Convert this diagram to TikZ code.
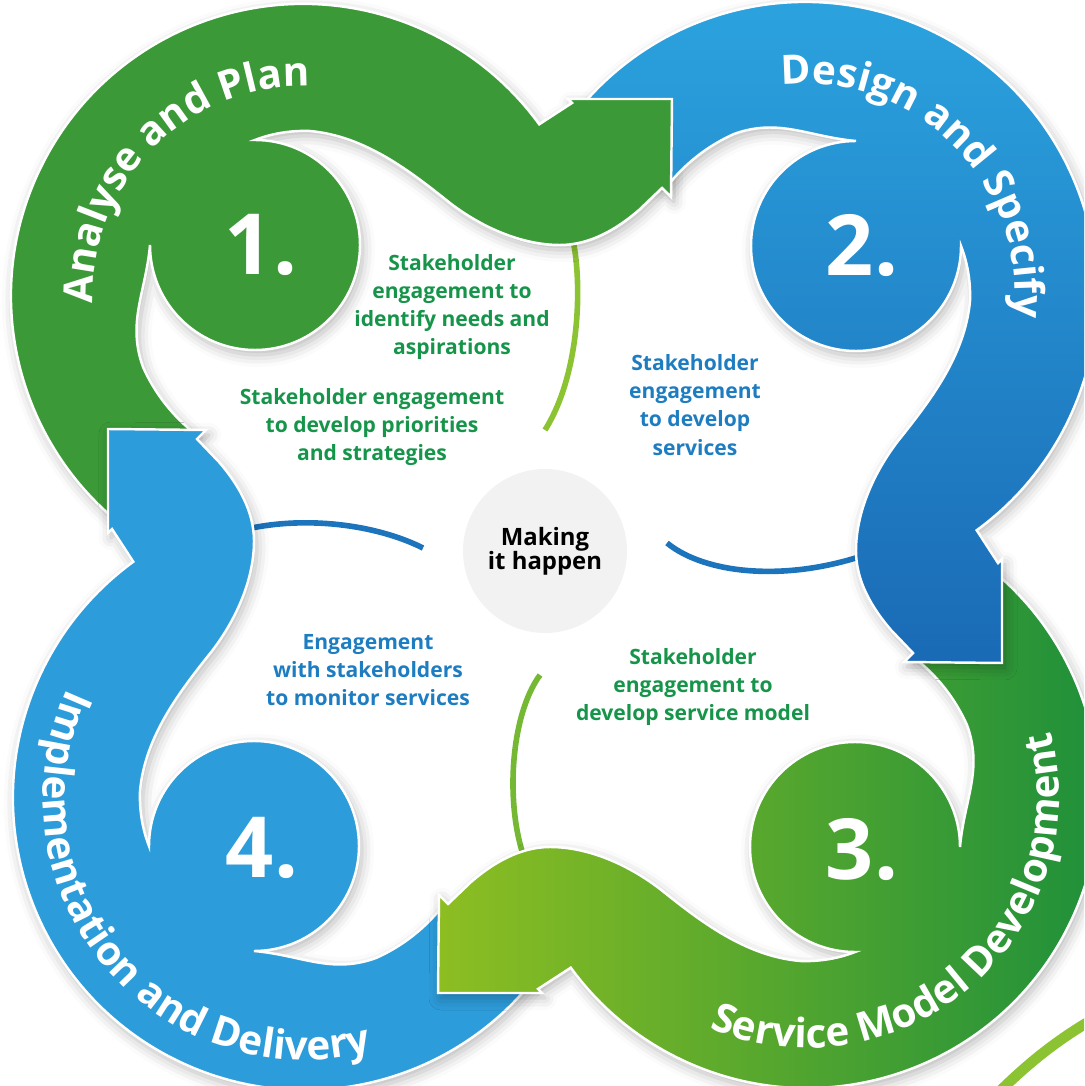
\documentclass[tikz,border=0pt]{standalone}
\usepackage{fontspec}
\setmainfont{Open Sans}
\usetikzlibrary{positioning, decorations.text, shadows.blur}
\usepackage{xcolor}
\definecolor{xgrnA}{HTML}{3B9A37}
\definecolor{xbluQ}{HTML}{2D9CDA}
\definecolor{xbluT}{HTML}{2CA6E1}
\definecolor{xbluB}{HTML}{1A6AB5}
\definecolor{xlimeL}{HTML}{8DBE22}
\definecolor{xgrnR}{HTML}{188D3C}
\definecolor{xtxtgrn}{HTML}{16954A}
\definecolor{xtxtblu}{HTML}{1E7DC1}
\definecolor{xhub}{HTML}{F2F2F2}
\definecolor{xarcblu}{HTML}{1C74BD}
\definecolor{xarclime}{HTML}{8CC332}
\tikzset{
	swirltop/.style={draw=white, line width=0.7pt},
	swirl/.style={swirltop, blur shadow={shadow xshift=0.3mm, shadow yshift=-0.5mm, shadow blur radius=1.2mm, shadow opacity=28}},
	numlbl/.style={text=white, font=\fontsize{24}{24}\selectfont\bfseries},
	steplbl/.style={font=\fontsize{6}{8}\selectfont\bfseries, align=center},
	hub/.style={circle, fill=xhub, minimum size=1.64cm, inner sep=0pt, align=center, font=\fontsize{6.8}{6.8}\selectfont\bfseries},
	linkarc/.style={line width=1.6pt},
}
\newcommand\swirlpath{(-3.754,-0.146) arc[start angle=245, end angle=36, radius=2.92]
	-- (0.17,4.43) -- (0.13,4.47) -- (1.17,4.47) -- (1.16,3.49) -- (1.07,3.58) -- (0.84,3.36)
	.. controls (0.62,3.17) and (0.35,3.01) .. (0.05,3.01)
	.. controls (-0.35,3.01) and (-0.75,3.2) .. (-1.05,3.43)
	.. controls (-1.45,3.75) and (-1.9,4.1) .. (-2.45,4.15)
	.. controls (-2.7,4.16) and (-2.9,4.10) .. (-3.00,4.06)
	arc[start angle=90, end angle=-180, radius=1.05]
	to[out=-95, in=110] (-4.12,1.79)
	arc[start angle=204, end angle=232, radius=1.75] -- cycle}
\newcommand\arcfont{\color{white}\fontsize{11.5}{13}\selectfont\bfseries}

\begin{document}
\begin{tikzpicture}
	\useasboundingbox (-5.55,-5.40) rectangle (5.29,5.46);
	\clip (-5.55,-5.40) rectangle (5.29,5.46);

	% Engagement arcs
	\draw[linkarc, xarclime] (0.17,3.10) .. controls (0.27,2.7) and (0.27,1.75) .. (-0.10,1.16);
	\draw[linkarc, xarcblu] (-3.08,0.17) .. controls (-2.5,0.3) and (-1.8,0.22) .. (-1.32,-0.02);
	\draw[linkarc, xarcblu] (1.12,0.03) .. controls (1.5,-0.28) and (2.3,-0.36) .. (3.10,-0.09);
	\draw[linkarc, xarclime!80!xgrnR] (-0.15,-1.29) .. controls (-0.45,-1.7) and (-0.5,-2.6) .. (-0.30,-3.14);
	\draw[line width=3pt, xarclime] (4.40,-5.50) .. controls (4.7,-5.2) and (5.0,-4.95) .. (5.40,-4.72);

	% Swirls
	\path[swirl, fill=xgrnA] \swirlpath;
	\path[swirl, rotate=90, fill=xbluQ] \swirlpath;
	\path[swirl, rotate=180, left color=xlimeL, right color=xgrnR] \swirlpath;
	\path[swirl, rotate=-90, top color=xbluT, bottom color=xbluB] \swirlpath;
	\begin{scope}
		\clip (-0.35,2.9) rectangle (1.4,4.65);
		\path[swirltop, fill=xgrnA] \swirlpath;
	\end{scope}

	% Stage titles
	\path[decorate, decoration={text along path, text align=center, text={|\arcfont|Analyse and Plan}}]
		(-4.005,1.015) arc[start angle=225, end angle=45, radius=2.1];
	\path[decorate, decoration={text along path, text align=center, text={|\arcfont|Design and Specify}}]
		(1.015,4.005) arc[start angle=135, end angle=-45, radius=2.1];
	\path[decorate, decoration={text along path, text align=center, text={|\arcfont|Service Model Development}}]
		(0.618,-4.153) arc[start angle=221, end angle=401, radius=2.52];
	\path[decorate, decoration={text along path, text align=center, text={|\arcfont|Implementation and Delivery}}]
		(-4.184,-0.513) arc[start angle=130, end angle=310, radius=2.62];

	% Numbers
	\node[numlbl] (n1) at (-2.94,3.01) {1.};
	\node[numlbl] (n2) at (3.07,3.00) {2.};
	\node[numlbl] (n3) at (3.07,-3.04) {3.};
	\node[numlbl] (n4) at (-2.93,-3.02) {4.};

	% Labels
	\node[hub] (hub) at (-0.10,-0.05) {Making\\it happen};
	\node[steplbl, text=xtxtgrn] (needs) at (-1.03,2.39) {Stakeholder\\engagement to\\identify needs and\\aspirations};
	\node[steplbl, text=xtxtgrn] (prio) at (-1.83,1.19) {Stakeholder engagement\\to develop priorities\\and strategies};
	\node[steplbl, text=xtxtblu] (serv) at (1.40,1.41) {Stakeholder\\engagement\\to develop\\services};
	\node[steplbl, text=xtxtblu] (mon) at (-1.87,-1.24) {Engagement\\with stakeholders\\to monitor services};
	\node[steplbl, text=xtxtgrn] (model) at (1.38,-1.41) {Stakeholder\\engagement to\\develop service model};
\end{tikzpicture}
\end{document}
